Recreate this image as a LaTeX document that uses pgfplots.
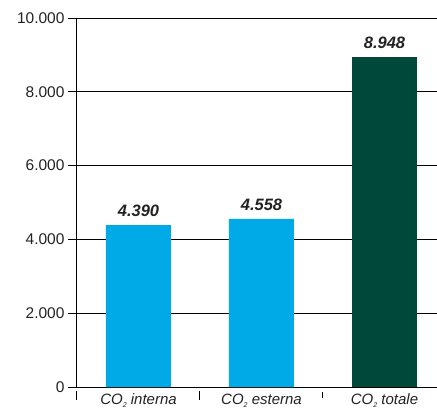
\documentclass[border=0pt]{standalone}
\usepackage{pgfplots}
\pgfplotsset{compat=1.18}
\usepackage{fontspec}
\setmainfont{Liberation Sans}
\setsansfont{Liberation Sans}
\definecolor{lblue}{HTML}{00AAE7}
\definecolor{dgreen}{HTML}{00483A}
\definecolor{txt}{HTML}{222222}
\newcommand{\cotwo}{CO{\fontsize{7}{7}\selectfont\raisebox{-2.5pt}{2}}}
\begin{document}
\begin{tikzpicture}
\path[use as bounding box] (0,0) rectangle (437pt,408pt);
\begin{axis}[
  at={(77pt,21pt)}, anchor=south west,
  scale only axis, width=360pt, height=369pt,
  xmin=-0.5, xmax=2.427, ymin=0, ymax=10000,
  axis lines*=left,
  x axis line style={draw=none},
  y axis line style={black, line width=1pt},
  ytick={0,2000,4000,6000,8000,10000},
  scaled y ticks=false,
  ymajorgrids, grid style={black, line width=0.8pt},
  tick align=outside,
  y tick style={black, line width=0.8pt},
  major tick length=9pt,
  yticklabel style={font=\fontsize{15.5}{15.5}\selectfont, text=txt},
  /pgf/number format/.cd, fixed, precision=0, 1000 sep={.}, assume math mode=true,
  /pgfplots/.cd,
  xtick={-0.5,0.5,1.5},
  xticklabels={},
  x tick style={black, line width=1pt, yshift=-3.5pt, shorten <=1.5pt, shorten >=1.5pt},
  extra x ticks={0,1,2},
  extra x tick labels={\cotwo{} interna, \cotwo{} esterna, \cotwo{} totale},
  extra x tick style={major tick length=0pt, tick style={draw=none},
    ticklabel style={font=\itshape\fontsize{15}{15}\selectfont, text=txt, yshift=-3.5pt}},
  ybar, bar width=65pt, bar shift=0pt,
  clip=false,
  nodes near coords={\pgfmathprintnumber[fixed,precision=0,1000 sep={.},assume math mode=true]{\pgfplotspointmeta}},
  nodes near coords style={font=\bfseries\itshape\fontsize{16.5}{16.5}\selectfont, text=txt, yshift=4.5pt},
]
\addplot[fill=lblue, draw=none] coordinates {(0,4390) (1,4558)};
\addplot[fill=dgreen, draw=none] coordinates {(2,8948)};
\end{axis}
\end{tikzpicture}
\end{document}
